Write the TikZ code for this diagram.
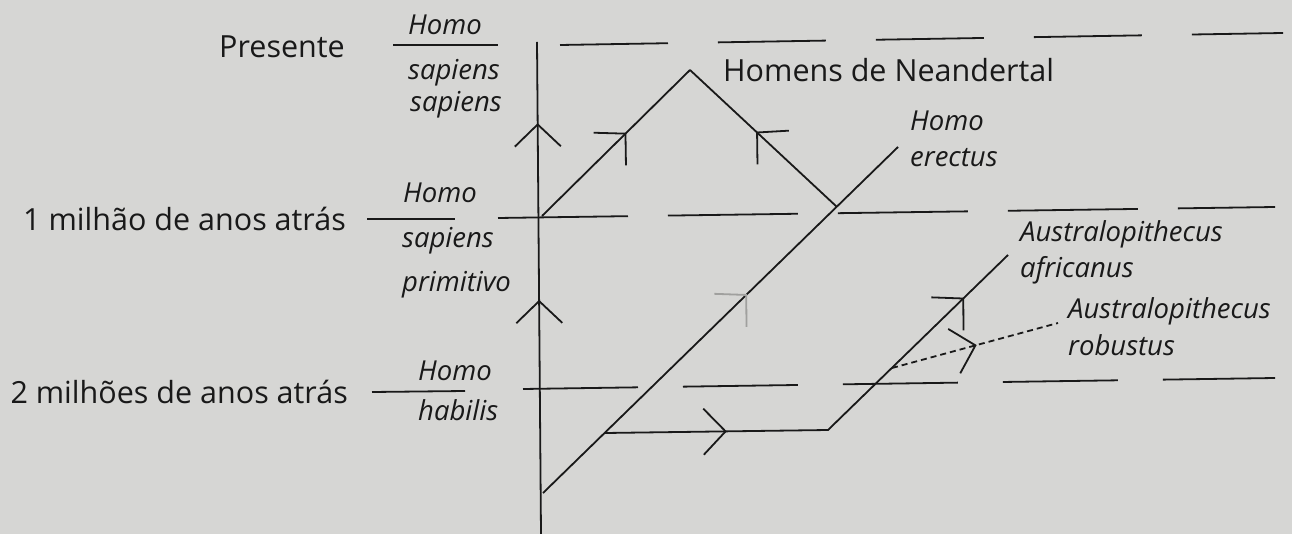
\documentclass[tikz,border=0pt]{standalone}
\usepackage{fontspec}
\setmainfont{Open Sans}
\usetikzlibrary{arrows.meta,decorations.markings}
\definecolor{PaperGray}{RGB}{214,214,212}
\definecolor{InkBlack}{RGB}{25,25,25}
\definecolor{FaintGray}{RGB}{160,160,158}

\begin{document}
\begin{tikzpicture}[
    x=1pt, y=-1pt,
    barb/.tip={Straight Barb[length=22pt,width=46pt]},
    fbarb/.tip={Straight Barb[length=22pt,width=46pt,color=FaintGray]},
    line/.style={
      draw=InkBlack,
      line width=1.8pt
    },
    timeline/.style={line, dash pattern=#1},
    era/.style={
      anchor=base east,
      inner sep=0pt,
      font=\fontsize{30.5}{36}\selectfont,
      text=InkBlack
    },
    taxon/.style={
      anchor=base west,
      inner sep=0pt,
      align=left,
      font=\fontsize{27.5}{36}\selectfont\itshape,
      text=InkBlack
    },
    flowmark/.style={
      postaction={decorate},
      decoration={markings, mark=at position #1 with {\arrow{barb}}}
    },
    faintmark/.style={
      postaction={decorate},
      decoration={markings, mark=at position #1 with {\arrow{fbarb}}}
    }
  ]
    \fill[PaperGray] (0,0) rectangle (1292,534);
    \useasboundingbox (0,0) rectangle (1292,534);

    % time levels
    \coordinate (nowL) at (393,45);   \coordinate (nowR) at (498,45);
    \coordinate (nowA) at (560,45);   \coordinate (nowB) at (1283,33);
    \coordinate (oneL) at (367,219);  \coordinate (oneR) at (455,219);
    \coordinate (oneA) at (498,218);  \coordinate (oneB) at (1275,207);
    \coordinate (twoL) at (372,392);  \coordinate (twoR) at (465,391);
    \coordinate (twoA) at (523,389);  \coordinate (twoB) at (1275,378);

    \draw[line] (nowL) -- (nowR);
    \draw[line] (oneL) -- (oneR);
    \draw[line] (twoL) -- (twoR);
    \draw[timeline={on 108pt off 50pt}] (nowA) -- (nowB);
    \draw[timeline={on 130pt off 40pt}] (oneA) -- (oneB);
    \draw[timeline={on 115pt off 45pt}] (twoA) -- (twoB);

    \node[era] (presente) at (345,58) {Presente};
    \node[era] (milhao) at (346,231) {1 milhão de anos atrás};
    \node[era] (milhoes) at (348,403) {2 milhões de anos atrás};

    % lineages
    \coordinate (axbot) at (541,534);
    \coordinate (axtop) at (537,42);
    \coordinate (sapbase) at (542,216);
    \coordinate (neapeak) at (690,70);
    \coordinate (neabase) at (837,207);
    \coordinate (erebase) at (543,493);
    \coordinate (eretop) at (898,147);
    \coordinate (habbase) at (605,433);
    \coordinate (habturn) at (828,430);
    \coordinate (afrtop) at (1008,255);
    \coordinate (robbase) at (892,368);
    \coordinate (robtop) at (1058,323);

    \draw[line, postaction={decorate},
      decoration={markings,
        mark=at position 0.476 with {\arrow{barb}},
        mark=at position 0.835 with {\arrow{barb}}}] (axbot) -- (axtop);
    \draw[line, flowmark=0.57] (sapbase) -- (neapeak);
    \draw[line, flowmark=0.55] (neabase) -- (neapeak);
    \draw[line, faintmark=0.575] (erebase) -- (eretop);
    \draw[line, postaction={decorate},
      decoration={markings,
        mark=at position 0.257 with {\arrow{barb}},
        mark=at position 0.871 with {\arrow{barb}}}] (habbase) -- (habturn) -- (afrtop);
    \draw[line, dash pattern=on 6pt off 4pt, flowmark=0.51] (robbase) -- (robtop);

    % names
    \node[taxon] (hss1) at (408,35) {Homo};
    \node[taxon] (hss2) at (408,80) {sapiens};
    \node[taxon] (hss3) at (410,112) {sapiens};
    \node[taxon] (hsp1) at (403,203) {Homo};
    \node[taxon] (hsp2) at (402,248) {sapiens};
    \node[taxon] (hsp3) at (402,292) {primitivo};
    \node[taxon] (hh1) at (418,380) {Homo};
    \node[taxon] (hh2) at (418,420) {habilis};
    \node[era, anchor=base west] (neander) at (723,82) {Homens de Neandertal};
    \node[taxon] (erectus) at (910,167) {Homo\\erectus};
    \node[taxon] (africanus) at (1020,278) {Australopithecus\\africanus};
    \node[taxon] (robustus) at (1068,355) {Australopithecus\\robustus};
  \end{tikzpicture}
\end{document}
